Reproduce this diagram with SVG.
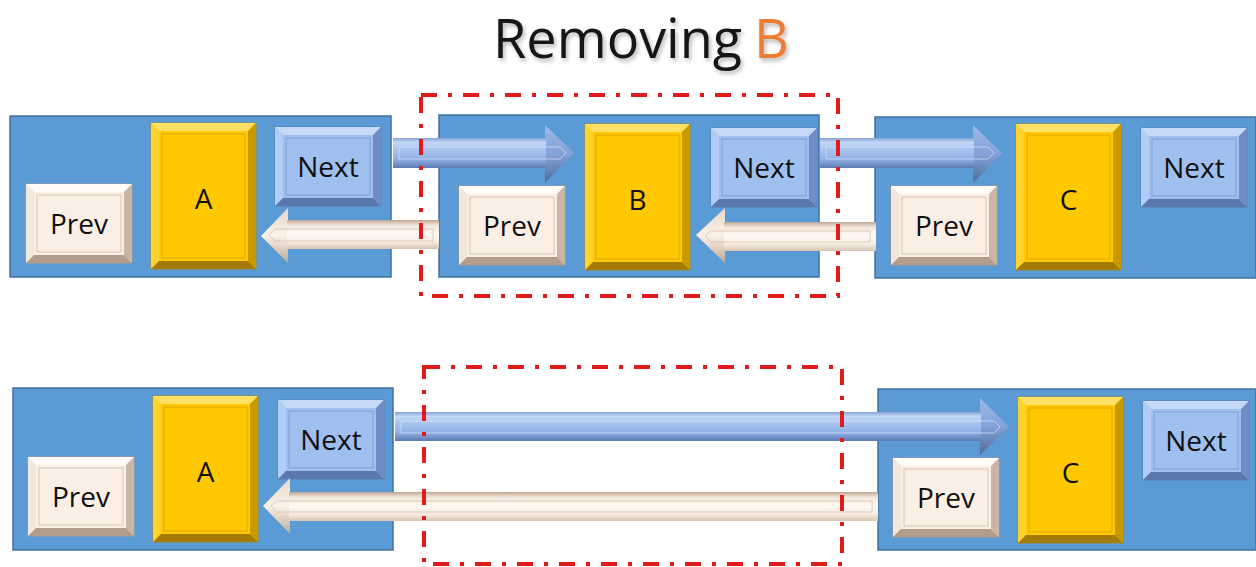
<svg xmlns="http://www.w3.org/2000/svg" xmlns:xlink="http://www.w3.org/1999/xlink" width="1256" height="567" viewBox="0 0 1256 567">
  <style>
    .container { fill: #5B9BD5; stroke: #41709E; stroke-width: 1.5; }
    .label { font-family: "Open Sans", "Noto Sans", "Liberation Sans", sans-serif; font-size: 28px; fill: #111; text-anchor: middle; }
    .title { font-family: "Open Sans", "Noto Sans", "Liberation Sans", sans-serif; font-size: 54px; fill: #151515; }
    .title-accent { fill: #ED7D31; }
    .focus { fill: none; stroke: #E01B1B; stroke-width: 4; stroke-dasharray: 16 11 4 11; }
    .inner-blue { fill: none; stroke: #D4E3FA; stroke-width: 1; opacity: 0.7; }
    .inner-cream { fill: none; stroke: #D9C8B8; stroke-width: 1; opacity: 0.9; }
  </style>
  <defs>
    <filter id="soft-shadow" filterUnits="userSpaceOnUse" x="400" y="0" width="480" height="90">
      <feDropShadow dx="2" dy="3" stdDeviation="2" flood-color="#000" flood-opacity="0.28"/>
    </filter>
    <linearGradient id="shaft-blue" x1="0" y1="0" x2="0" y2="1">
      <stop offset="0" stop-color="#86A3D8"/>
      <stop offset="0.15" stop-color="#C3D7F6"/>
      <stop offset="0.4" stop-color="#A8C3EF"/>
      <stop offset="0.7" stop-color="#92B1E6"/>
      <stop offset="1" stop-color="#5B7AB3"/>
    </linearGradient>
    <linearGradient id="head-blue" x1="0" y1="0" x2="0" y2="1">
      <stop offset="0" stop-color="#9DB8E8"/>
      <stop offset="0.5" stop-color="#84A2D8"/>
      <stop offset="1" stop-color="#4F6C98"/>
    </linearGradient>
    <linearGradient id="shaft-cream" x1="0" y1="0" x2="0" y2="1">
      <stop offset="0" stop-color="#BCA693"/>
      <stop offset="0.18" stop-color="#F4E6DA"/>
      <stop offset="0.45" stop-color="#FFF9F3"/>
      <stop offset="0.75" stop-color="#F8EDE3"/>
      <stop offset="1" stop-color="#D7C4B3"/>
    </linearGradient>
    <linearGradient id="head-cream" x1="0" y1="0" x2="0" y2="1">
      <stop offset="0" stop-color="#E7D7C9"/>
      <stop offset="0.5" stop-color="#FBF1E8"/>
      <stop offset="1" stop-color="#BFA996"/>
    </linearGradient>

    <!-- bevelled data box (yellow) -->
    <symbol id="box-yellow" overflow="visible">
      <rect x="0" y="0" width="105" height="146" fill="#FFC800" stroke="#B08600" stroke-width="0.8"/>
      <polygon points="0,0 105,0 97,8 8,8" fill="#FFE066"/>
      <polygon points="0,0 8,8 8,138 0,146" fill="#FFD22E"/>
      <polygon points="105,0 105,146 97,138 97,8" fill="#C99A00"/>
      <polygon points="0,146 105,146 97,138 8,138" fill="#A47B00"/>
      <rect x="11" y="11" width="83" height="124" fill="none" stroke="#D9A400" stroke-width="0.8"/>
    </symbol>
    <!-- bevelled "Next" pointer box -->
    <symbol id="box-next" overflow="visible">
      <rect x="0" y="0" width="106" height="79" fill="#9FBFEF" stroke="#5A78AE" stroke-width="0.8"/>
      <polygon points="0,0 106,0 98,8 8,8" fill="#C6DAF8"/>
      <polygon points="0,0 8,8 8,71 0,79" fill="#B2CDF5"/>
      <polygon points="106,0 106,79 98,71 98,8" fill="#6E8DC6"/>
      <polygon points="0,79 106,79 98,71 8,71" fill="#5A78AE"/>
      <rect x="11" y="11" width="84" height="57" fill="none" stroke="#7C9AD0" stroke-width="0.8"/>
    </symbol>
    <!-- bevelled "Prev" pointer box -->
    <symbol id="box-prev" overflow="visible">
      <rect x="0" y="0" width="106" height="79" fill="#FBEFE5" stroke="#B39C89" stroke-width="0.8"/>
      <polygon points="0,0 106,0 98,8 8,8" fill="#FFFBF7"/>
      <polygon points="0,0 8,8 8,71 0,79" fill="#F3E6DB"/>
      <polygon points="106,0 106,79 98,71 98,8" fill="#C9B5A3"/>
      <polygon points="0,79 106,79 98,71 8,71" fill="#B39C89"/>
      <rect x="11" y="11" width="84" height="57" fill="none" stroke="#CDBBAA" stroke-width="0.8"/>
    </symbol>
  </defs>

  <rect width="1256" height="567" fill="#FFFFFF"/>

  <!-- heading -->
  <g id="title" filter="url(#soft-shadow)">
    <text class="title" x="493" y="58">Removing</text>
    <text class="title title-accent" x="754" y="58">B</text>
  </g>

  <!-- upper list: A <-> B <-> C -->
  <g id="node-a-top">
    <rect class="container" x="10" y="116" width="381" height="161"/>
    <use href="#box-prev" x="26" y="184"/>
    <use href="#box-yellow" x="151" y="123"/>
    <use href="#box-next" x="275" y="127"/>
    <text class="label" x="79" y="234">Prev</text>
    <text class="label" x="203.5" y="209">A</text>
    <text class="label" x="328" y="177">Next</text>
  </g>
  <g id="node-b-top">
    <rect class="container" x="439" y="115" width="380" height="162"/>
    <use href="#box-prev" x="459" y="186"/>
    <use href="#box-yellow" x="585" y="124"/>
    <use href="#box-next" x="711" y="128"/>
    <text class="label" x="512" y="236">Prev</text>
    <text class="label" x="637.5" y="210">B</text>
    <text class="label" x="764" y="178">Next</text>
  </g>
  <g id="node-c-top">
    <rect class="container" x="875" y="117" width="381" height="161"/>
    <use href="#box-prev" x="891" y="186"/>
    <use href="#box-yellow" x="1016" y="124"/>
    <use href="#box-next" x="1141" y="128"/>
    <text class="label" x="944" y="236">Prev</text>
    <text class="label" x="1068.5" y="210">C</text>
    <text class="label" x="1194" y="178">Next</text>
  </g>

  <!-- lower list: A <-> C after unlinking -->
  <g id="node-a-bottom">
    <rect class="container" x="13" y="388" width="380" height="162"/>
    <use href="#box-prev" x="28" y="457"/>
    <use href="#box-yellow" x="153" y="396"/>
    <use href="#box-next" x="278" y="400"/>
    <text class="label" x="81" y="507">Prev</text>
    <text class="label" x="205.5" y="482">A</text>
    <text class="label" x="331" y="450">Next</text>
  </g>
  <g id="node-c-bottom">
    <rect class="container" x="878" y="389" width="378" height="161"/>
    <use href="#box-prev" x="893" y="458"/>
    <use href="#box-yellow" x="1018" y="397"/>
    <use href="#box-next" x="1143" y="401"/>
    <text class="label" x="946" y="508">Prev</text>
    <text class="label" x="1070.5" y="483">C</text>
    <text class="label" x="1196" y="451">Next</text>
  </g>

  <!-- pointer arrows -->
  <g id="connectors">
    <!-- A.next -> B -->
    <g id="a-next-b">
      <polygon points="545,125 574,153 545,183" fill="url(#head-blue)"/>
      <rect x="393" y="138" width="153" height="30" fill="url(#shaft-blue)"/>
      <path class="inner-blue" d="M399,147 H560 L566,153 L560,159 H399 Z"/>
    </g>
    <!-- B.next -> C -->
    <g id="b-next-c">
      <polygon points="973,125 1002,153 973,183" fill="url(#head-blue)"/>
      <rect x="820" y="138" width="154" height="30" fill="url(#shaft-blue)"/>
      <path class="inner-blue" d="M826,147 H988 L994,153 L988,159 H826 Z"/>
    </g>
    <!-- B.prev -> A -->
    <g id="b-prev-a">
      <polygon points="288,208 261,236 288,263" fill="url(#head-cream)"/>
      <rect x="287" y="220" width="152" height="29" fill="url(#shaft-cream)"/>
      <path class="inner-cream" d="M433,229 H275 L269,235 L275,241 H433 Z"/>
    </g>
    <!-- C.prev -> B -->
    <g id="c-prev-b">
      <polygon points="725,208 696,235 725,263" fill="url(#head-cream)"/>
      <rect x="724" y="222" width="152" height="29" fill="url(#shaft-cream)"/>
      <path class="inner-cream" d="M870,231 H711 L705,236 L711,242 H870 Z"/>
    </g>
    <!-- A.next -> C (B skipped) -->
    <g id="a-next-c">
      <polygon points="980,398 1009,427 980,455" fill="url(#head-blue)"/>
      <rect x="395" y="412" width="586" height="29" fill="url(#shaft-blue)"/>
      <path class="inner-blue" d="M401,421 H994 L1000,427 L994,433 H401 Z"/>
    </g>
    <!-- C.prev -> A (B skipped) -->
    <g id="c-prev-a">
      <polygon points="290,478 263,506 290,534" fill="url(#head-cream)"/>
      <rect x="289" y="492" width="589" height="29" fill="url(#shaft-cream)"/>
      <path class="inner-cream" d="M872,501 H277 L271,506 L277,512 H872 Z"/>
    </g>
  </g>

  <!-- highlight frames around the removed node -->
  <g id="removal-frames">
    <rect class="focus" x="421" y="95" width="417" height="201"/>
    <rect class="focus" x="424" y="367" width="418" height="197"/>
  </g>
</svg>
